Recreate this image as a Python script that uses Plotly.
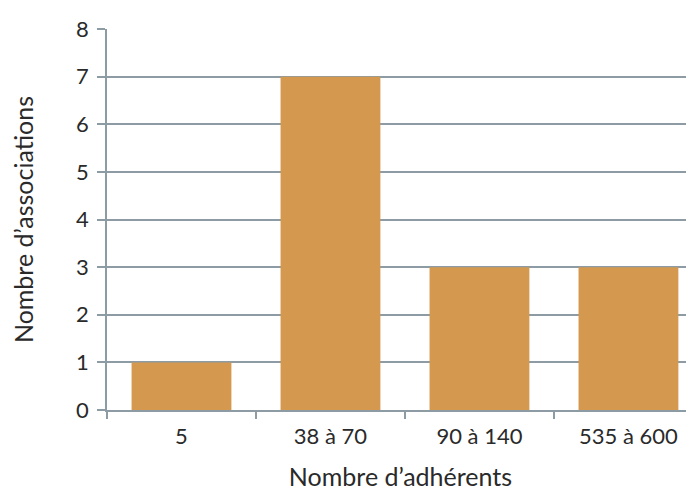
import plotly.graph_objects as go

categories = ["5", "38 à 70", "90 à 140", "535 à 600"]
values = [1, 7, 3, 3]
y_ticks = [0, 1, 2, 3, 4, 5, 6, 7, 8]

grid = "#8d9ba5"
fig = go.Figure(go.Bar(x=categories, y=values, marker=dict(color="#d4984f", line=dict(width=0)), width=0.67))

fig.update_layout(
    width=686, height=483,
    margin=dict(l=99, r=0, t=21, b=81),
    paper_bgcolor="white", plot_bgcolor="white",
    font=dict(family="Lato, Noto Sans, sans-serif", size=19, color="#2a2a2a"),
    showlegend=False,
)
fig.update_xaxes(
    type="category", range=[-0.5, 3.44],
    tickson="boundaries", ticks="outside", ticklen=7, tickcolor=grid, tickwidth=1.5,
    showline=True, linecolor=grid, linewidth=1.5, showgrid=False,
    title=dict(text="Nombre d’adhérents", font=dict(size=25), standoff=20),
    tickfont=dict(size=22), ticklabelstandoff=6,
)
fig.update_yaxes(
    range=[0, 8], tickvals=y_ticks,
    ticks="outside", ticklen=8, tickcolor=grid, tickwidth=1.5,
    showline=True, linecolor=grid, linewidth=1.5,
    showgrid=True, gridcolor=grid, gridwidth=1.5, zeroline=False,
    title=dict(text="Nombre d’associations", font=dict(size=25), standoff=40),
    tickfont=dict(size=22), ticklabelstandoff=4,
)
fig.write_html("out.html")
